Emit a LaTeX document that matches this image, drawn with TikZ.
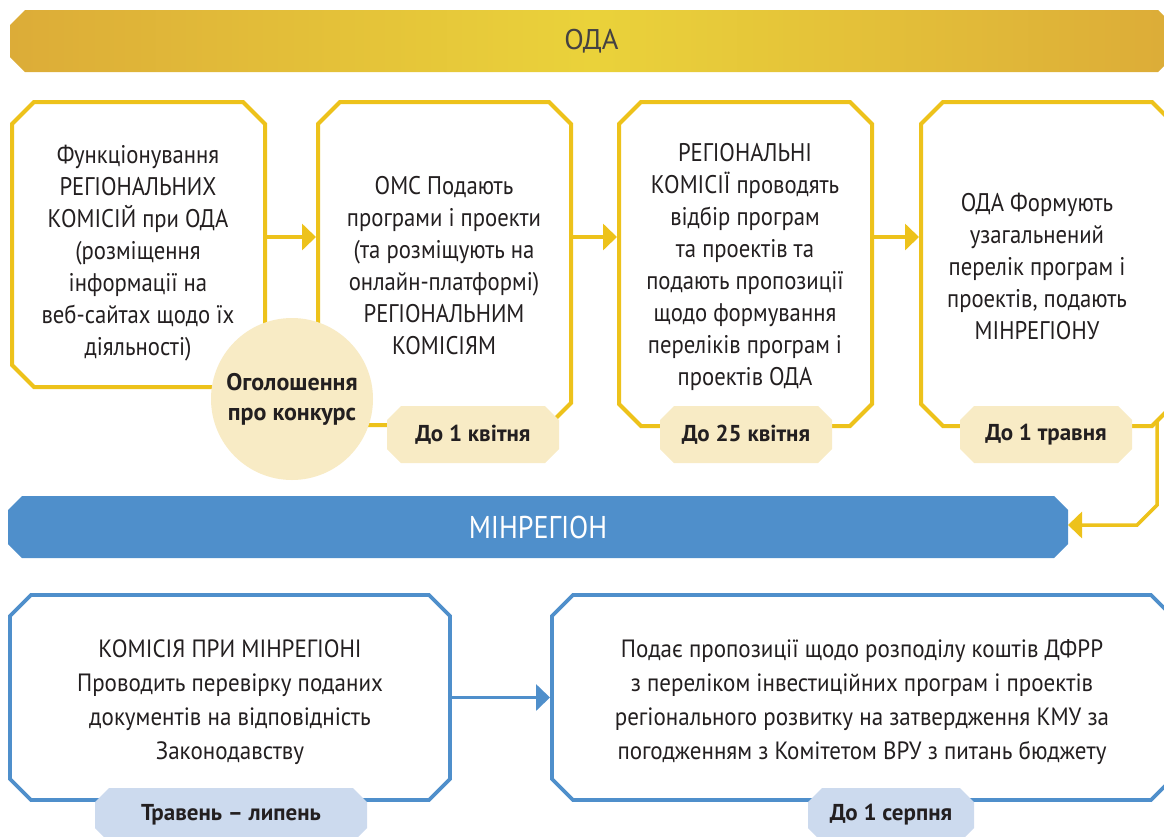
\documentclass[tikz,border=0pt]{standalone}
\usepackage{fontspec}
\setmainfont{PT Sans}[FakeStretch=0.89]
\newfontfamily\widefont{PT Sans}
\newfontfamily\lowerfont{PT Sans}[FakeStretch=0.92]
\usetikzlibrary{arrows.meta,backgrounds}
\definecolor{ygold}{HTML}{EDC21B}
\definecolor{cream}{HTML}{F8EBC5}
\definecolor{bblue}{HTML}{4F8FCB}
\definecolor{lblue}{HTML}{CCDAEE}
\definecolor{txt}{HTML}{231F20}
\definecolor{gdark}{HTML}{DCAC38}
\definecolor{glight}{HTML}{EAD23A}
% chamfered outline drawn on the background layer round a named node
\newcommand\chamferbox[3]{%
  \begin{pgfonlayer}{background}
  \path[#3] ([xshift=#2]#1.north west) -- ([xshift=-#2]#1.north east)
    -- ([yshift=-#2]#1.north east) -- ([yshift=#2]#1.south east)
    -- ([xshift=-#2]#1.south east) -- ([xshift=#2]#1.south west)
    -- ([yshift=#2]#1.south west) -- ([yshift=-#2]#1.north west) -- cycle;
  \end{pgfonlayer}}
\begin{document}
\begin{tikzpicture}[x=1pt,y=-1pt,
  frame/.style={rectangle, inner sep=0pt, outer sep=0pt},
  ybox/.style={draw=ygold, line width=4pt, fill=white},
  bbox/.style={draw=bblue, line width=3.6pt, fill=white},
  bodytext/.style={align=center, text=txt, inner sep=0pt, font=\fontsize{25.5}{32}\selectfont},
  btext/.style={align=center, text=txt, inner sep=0pt, font=\lowerfont\fontsize{25}{34}\selectfont},
  badgetext/.style={frame, text=txt, font=\widefont\bfseries\fontsize{23}{26}\selectfont},
  yarr/.style={draw=ygold, line width=3.5pt, shorten >=2pt, -{Triangle[length=14pt,width=26pt]}},
  barr/.style={draw=bblue, line width=3.5pt, shorten >=2pt, -{Triangle[length=14pt,width=26pt]}}
]
\useasboundingbox (0,0) rectangle (1164,836);

% banners
\node[frame, minimum width=1163pt, minimum height=62pt, text=txt!85,
      font=\widefont\fontsize{28.5}{30}\selectfont] (oda) at (591.5,41) {ОДА};
\chamferbox{oda}{15pt}{left color=gdark, right color=gdark, middle color=glight}
\node[frame, minimum width=1060pt, minimum height=62pt,
      text=white, font=\fontsize{31.5}{34}\selectfont] (mb) at (538,527) {МІНРЕГІОН};
\chamferbox{mb}{14pt}{fill=bblue}

% top boxes
\node[frame, minimum width=253pt, minimum height=285pt] (b1) at (138.5,244.5) {};
\node[frame, minimum width=253pt, minimum height=323pt] (b2) at (444.5,263.5) {};
\node[frame, minimum width=253pt, minimum height=324pt] (b3) at (745.5,264) {};
\node[frame, minimum width=253pt, minimum height=324pt] (b4) at (1047.5,264) {};
\chamferbox{b1}{22pt}{ybox}
\chamferbox{b2}{22pt}{ybox}
\chamferbox{b3}{22pt}{ybox}
\chamferbox{b4}{22pt}{ybox}

\node[bodytext] (t1) at (138,253) {Функціонування\\РЕГІОНАЛЬНИХ\\КОМІСІЙ при ОДА\\(розміщення\\інформації на\\веб-сайтах щодо їх\\діяльності)};
\node[bodytext] (t2) at (444,266) {ОМС Подають\\програми і проекти\\(та розміщують на\\онлайн-платформі)\\РЕГІОНАЛЬНИМ\\КОМІСІЯМ};
\node[bodytext] (t3) at (745,267) {РЕГІОНАЛЬНІ\\КОМІСІЇ проводять\\відбір програм\\та проектів та\\подають пропозиції\\щодо формування\\переліків програм і\\проектів ОДА};
\node[bodytext] (t4) at (1037,266) {ОДА Формують\\узагальнений\\перелік програм і\\проектів, подають\\МІНРЕГІОНУ};

% badges
\node[badgetext, minimum width=172pt, minimum height=57pt] (d2) at (473,434.5) {До 1 квітня};
\node[badgetext, minimum width=172pt, minimum height=57pt] (d3) at (746,434.5) {До 25 квітня};
\node[badgetext, minimum width=172pt, minimum height=57pt] (d4) at (1046,434.5) {До 1 травня};
\chamferbox{d2}{14pt}{fill=cream}
\chamferbox{d3}{14pt}{fill=cream}
\chamferbox{d4}{14pt}{fill=cream}

% announcement circle
\node[circle, fill=cream, minimum size=162pt, inner sep=0pt, align=center, text=txt,
      font=\widefont\bfseries\fontsize{24}{30}\selectfont] (ogol) at (292,399) {Оголошення\\про конкурс};

% bottom boxes
\node[frame, minimum width=440pt, minimum height=205pt] (b5) at (230,697.5) {};
\node[frame, minimum width=620pt, minimum height=205pt] (b6) at (862,697.5) {};
\chamferbox{b5}{21pt}{bbox}
\chamferbox{b6}{21pt}{bbox}
\node[btext] (t5) at (230,702) {КОМІСІЯ ПРИ МІНРЕГІОНІ\\Проводить перевірку поданих\\документів на відповідність\\Законодавству};
\node[btext] (t6) at (862,702) {Подає пропозиції щодо розподілу коштів ДФРР\\з переліком інвестиційних програм і проектів\\регіонального розвитку на затвердження КМУ за\\погодженням з Комітетом ВРУ з питань бюджету};
\node[badgetext, minimum width=272pt, minimum height=54pt] (d5) at (231,815) {Травень – липень};
\node[badgetext, minimum width=166pt, minimum height=54pt] (d6) at (891,815) {До 1 серпня};
\chamferbox{d5}{14pt}{fill=lblue}
\chamferbox{d6}{14pt}{fill=lblue}

% connectors
\coordinate (ay) at (0,237);
\draw[yarr] (b1.east |- ay) -- (b2.west |- ay);
\draw[yarr] (b2.east |- ay) -- (b3.west |- ay);
\draw[yarr] (b3.east |- ay) -- (b4.west |- ay);
\coordinate (c4) at (1157,421);
\coordinate (y525) at (0,525);
\draw[yarr, shorten >=0pt, line join=miter] (c4) -- (1157,505) -- (1137,525) -- (mb.east |- y525);
\draw[barr] (b5.east) -- (b6.west);
\end{tikzpicture}
\end{document}
